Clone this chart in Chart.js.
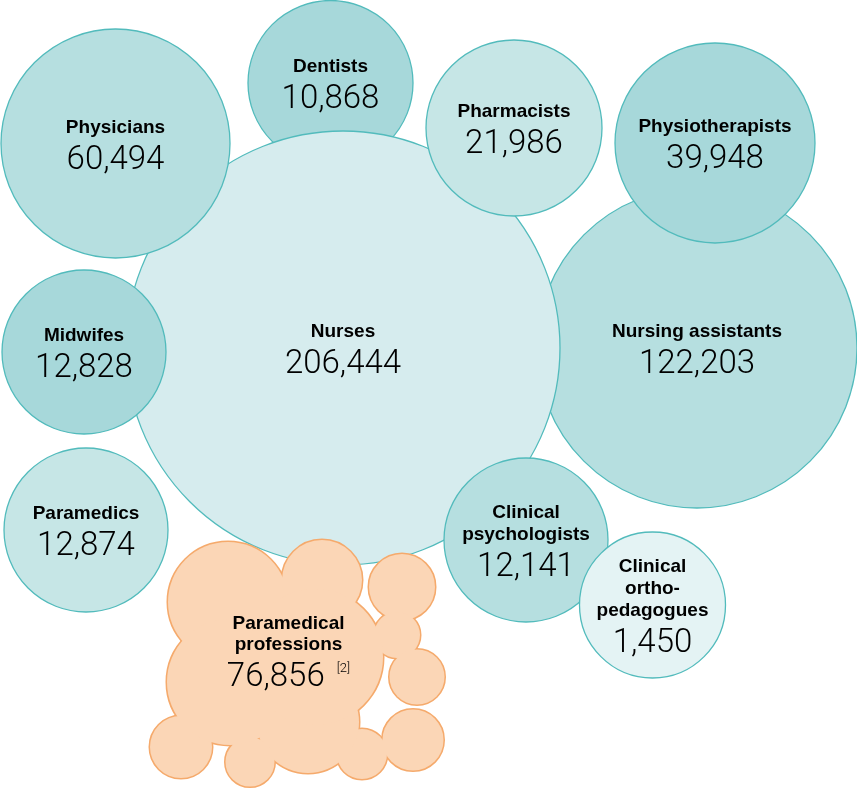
<!DOCTYPE html>
<html><head><meta charset="utf-8">
<script src="https://cdn.jsdelivr.net/npm/chart.js@4/dist/chart.umd.min.js"></script>
<style>html,body{margin:0;padding:0;background:#fff}#wrap{position:relative;width:857px;height:789px}</style>
</head><body><div id="wrap"><canvas id="c"></canvas></div>
<script>
// ---- data ----
const categories = ['Dentists','Nursing assistants','Nurses','Physicians','Pharmacists','Physiotherapists','Midwifes','Paramedics','Clinical psychologists','Clinical orthopedagogues','Paramedical professions'];
const nameLines = [['Dentists'],['Nursing assistants'],['Nurses'],['Physicians'],['Pharmacists'],['Physiotherapists'],['Midwifes'],['Paramedics'],['Clinical','psychologists'],['Clinical','ortho-','pedagogues'],['Paramedical','professions']];
const values = [10868,122203,206444,60494,21986,39948,12828,12874,12141,1450,76856];
const footnotes = ['','','','','','','','','','','[2]'];

// ---- layout (positions in an 857x789 frame, drawing order) ----
const bubbleX = [330.5,697,343,115.5,514,715,84,86,526,652.5];
const bubbleY = [83,348,348,143.5,128,143,352,530,540,605];
const bubbleR = [82.5,160,217,114.5,88,100,82,82,82,73];
const bubbleFill = ['#a7d8da','#b6dfe0','#d6ecee','#b6dfe0','#c6e6e6','#a7d8da','#a7d8da','#c6e6e6','#b6dfe0','#e4f3f4'];
// cloud of the "Paramedical professions" group
const cloudX = [228,322,402,397,417,413,362,308,250,181,230,315];
const cloudY = [602,580,587,635,677,740,754,722,762,747,682,657];
const cloudR = [60,40,33,23,27.5,30.5,25,51,24.5,31,63,68];
const cloudLabelX = 288.5, cloudLabelY = 650.5;

const teal = '#52bbbc', orange = '#f5aa6c', orangeFill = '#fbd6b6';

const labelX = bubbleX.concat([cloudLabelX]);
const labelY = bubbleY.concat([cloudLabelY]);

const labelPlugin = {
  id: 'labels',
  afterDatasetsDraw(chart) {
    const ctx = chart.ctx, xs = chart.scales.x, ys = chart.scales.y;
    ctx.save();
    ctx.fillStyle = '#000';
    for (let i = 0; i < categories.length; i++) {
      const cx = xs.getPixelForValue(labelX[i]);
      const cy = ys.getPixelForValue(labelY[i]);
      const lines = nameLines[i];
      const h = 14 + 21.7 * (lines.length - 1) + 36;
      let base = cy - h / 2 + 14;
      ctx.textAlign = 'center';
      ctx.textBaseline = 'alphabetic';
      ctx.font = 'bold 19px "Liberation Sans", Arial, sans-serif';
      lines.forEach((t, k) => ctx.fillText(t, cx, base + 21.7 * k));
      const nb = base + 21.7 * (lines.length - 1) + 36;
      const num = values[i].toLocaleString('en-US');
      ctx.font = '300 33px Roboto, sans-serif';
      if (footnotes[i]) {
        const w = ctx.measureText(num).width;
        ctx.font = '300 13px Roboto, sans-serif';
        const fw = ctx.measureText(footnotes[i]).width;
        const start = cx - (w + 12 + fw) / 2;
        ctx.textAlign = 'left';
        ctx.fillText(footnotes[i], start + w + 12, nb - 14);
        ctx.font = '300 33px Roboto, sans-serif';
        ctx.fillText(num, start, nb);
      } else {
        ctx.fillText(num, cx, nb);
      }
    }
    ctx.restore();
  }
};

const tealData = bubbleX.map((x, i) => ({x, y: bubbleY[i], r: bubbleR[i]}));
const cloudData = cloudX.map((x, i) => ({x, y: cloudY[i], r: cloudR[i]}));

new Chart(document.getElementById('c'), {
  type: 'bubble',
  data: {
    datasets: [
      {label: 'professions', data: tealData, backgroundColor: bubbleFill, borderColor: teal, borderWidth: 1.3, order: 3, clip: false},
      {label: 'cloud outline', data: cloudData, backgroundColor: orangeFill, borderColor: orange, borderWidth: 3, order: 2, clip: false},
      {label: 'cloud fill', data: cloudData, backgroundColor: orangeFill, borderColor: orangeFill, borderWidth: 0, order: 1, clip: false}
    ]
  },
  options: {
    responsive: true, maintainAspectRatio: false, animation: false, events: [],
    layout: {padding: 0, autoPadding: false},
    plugins: {legend: {display: false}, tooltip: {enabled: false}},
    scales: {
      x: {type: 'linear', min: 0, max: 857, display: false},
      y: {type: 'linear', min: 0, max: 789, reverse: true, display: false}
    }
  },
  plugins: [labelPlugin]
});
</script></body></html>
